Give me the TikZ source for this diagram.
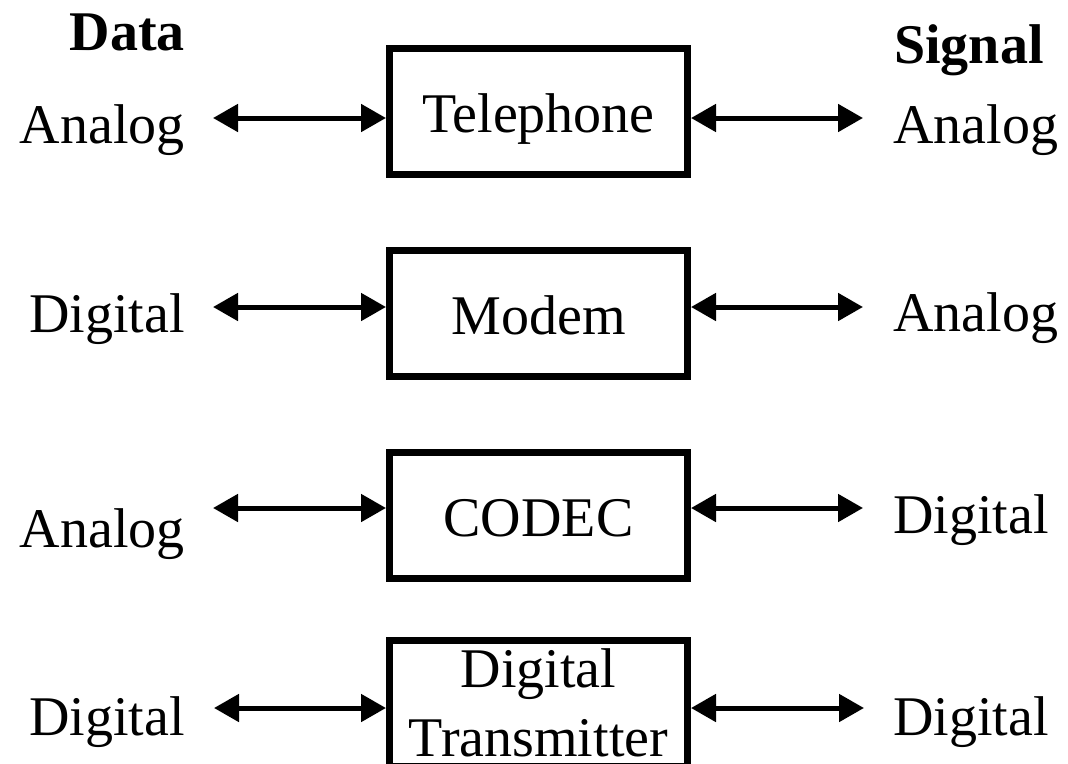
\documentclass[tikz,border=0pt]{standalone}
\usepackage{fontspec}
\setmainfont{Liberation Serif}
\usetikzlibrary{arrows.meta}
\begin{document}
\begin{tikzpicture}[x=0.75pt,y=-0.75pt,
  >={Triangle[length=18.75pt,width=20.25pt]},
  lbl/.style={inner sep=0pt, font=\fontsize{42}{51.75}\selectfont},
  hdr/.style={inner sep=0pt, font=\fontsize{42}{51.75}\selectfont\bfseries},
  blk/.style={draw, line width=5.25pt, minimum width=223.5pt, minimum height=94.5pt,
    inner sep=0pt, font=\fontsize{42}{51.75}\selectfont, text height=30.75pt, text depth=0pt},
  blktwo/.style={draw, line width=5.25pt, minimum width=223.5pt, minimum height=94.5pt,
    inner sep=0pt, align=center, font=\fontsize{42}{51.75}\selectfont},
  biarrow/.style={<->, line width=3.75pt}
]
\useasboundingbox (0,0) rectangle (1068,764);

% boxes
\node[blk] (tel) at (538.5,111.5) {Telephone};
\node[blk] (mod) at (538.5,313.5) {Modem};
\node[blk] (cod) at (538.5,515.5) {CODEC};
\node[blktwo] (dtx) at (538.5,703) {Digital\\Transmitter};

% headers
\node[hdr, anchor=base east] (data) at (185,50) {Data};
\node[hdr, anchor=base west] (sig) at (894,63) {Signal};

% left labels
\node[lbl, anchor=base east] (dl1) at (185,143) {Analog};
\node[lbl, anchor=base east] (dl2) at (185,332) {Digital};
\node[lbl, anchor=base east] (dl3) at (185,547) {Analog};
\node[lbl, anchor=base east] (dl4) at (185,735) {Digital};

% right labels
\node[lbl, anchor=base west] (sr1) at (893,143) {Analog};
\node[lbl, anchor=base west] (sr2) at (893,331) {Analog};
\node[lbl, anchor=base west] (sr3) at (893,533) {Digital};
\node[lbl, anchor=base west] (sr4) at (893,735) {Digital};

% arrow free ends
\coordinate (al1) at (213,118);
\coordinate (ar1) at (863,118);
\coordinate (al2) at (213,307);
\coordinate (ar2) at (863,307);
\coordinate (al3) at (213,508);
\coordinate (ar3) at (863,508);
\coordinate (al4) at (214,708);
\coordinate (ar4) at (864,708);

\draw[biarrow] (al1) -- (al1 -| tel.west);
\draw[biarrow] (tel.east |- ar1) -- (ar1);
\draw[biarrow] (al2) -- (al2 -| mod.west);
\draw[biarrow] (mod.east |- ar2) -- (ar2);
\draw[biarrow] (al3) -- (al3 -| cod.west);
\draw[biarrow] (cod.east |- ar3) -- (ar3);
\draw[biarrow] (al4) -- (al4 -| dtx.west);
\draw[biarrow] (dtx.east |- ar4) -- (ar4);
\end{tikzpicture}
\end{document}
